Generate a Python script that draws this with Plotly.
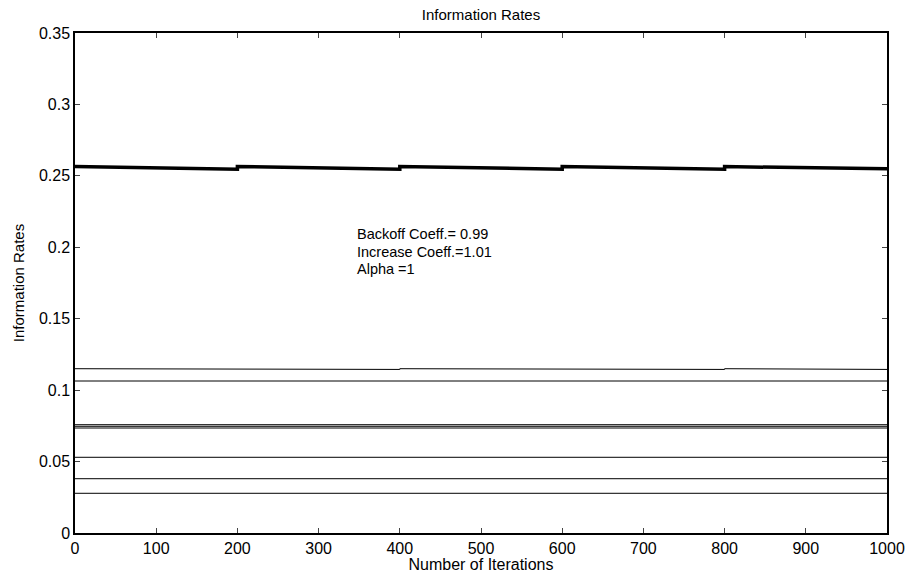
import plotly.graph_objects as go

# Breakpoints (iterations) for the sawtooth-shaped thick rate line
bp_x = [0, 200, 200, 400, 400, 600, 600, 800, 800, 1000]
thick_y = [0.2565, 0.2547, 0.2565, 0.2547, 0.2565, 0.2547, 0.2565, 0.2547, 0.2565, 0.2549]
upper_thin_y = [0.1150, 0.1145, 0.1150, 0.1145, 0.1150, 0.1145, 0.1150, 0.1145, 0.1150, 0.1145]

# Flat thin rate lines
flat_x = [0, 1000]
flat_levels = [0.1064, 0.0758, 0.0747, 0.0735, 0.0530, 0.0380, 0.0278]

x_ticks = [0, 100, 200, 300, 400, 500, 600, 700, 800, 900, 1000]
y_ticks = [0, 0.05, 0.1, 0.15, 0.2, 0.25, 0.3, 0.35]
y_tick_text = ["0", "0.05", "0.1", "0.15", "0.2", "0.25", "0.3", "0.35"]

annotation_lines = ["Backoff Coeff.= 0.99", "Increase Coeff.=1.01", "Alpha =1"]
annotation_y = [0.2090, 0.1968, 0.1846]

FONT = "Liberation Sans, Arial, Helvetica, sans-serif"

fig = go.Figure()
fig.add_trace(go.Scatter(x=bp_x, y=thick_y, mode="lines",
                         line=dict(color="black", width=3.5), showlegend=False))
fig.add_trace(go.Scatter(x=bp_x, y=upper_thin_y, mode="lines",
                         line=dict(color="black", width=1), showlegend=False))
for lv in flat_levels:
    fig.add_trace(go.Scatter(x=flat_x, y=[lv, lv], mode="lines",
                             line=dict(color="black", width=1), showlegend=False))

for txt, yy in zip(annotation_lines, annotation_y):
    fig.add_annotation(x=346, y=yy, xref="x", yref="y", xanchor="left", yanchor="middle",
                       text=txt, showarrow=False, align="left", borderpad=0,
                       font=dict(family=FONT, size=14.5, color="black"))

fig.update_layout(
    width=912, height=573,
    margin=dict(l=75, r=25, t=33, b=40),
    paper_bgcolor="white", plot_bgcolor="white",
    font=dict(family=FONT, size=16, color="black"),
    title=dict(text="Information Rates", x=0.5, xref="paper", y=0.975, yanchor="middle",
               font=dict(family=FONT, size=15, color="black")),
    xaxis=dict(range=[0, 1000], tickvals=x_ticks, ticks="inside", ticklen=5,
               showline=True, linecolor="black", linewidth=1.5, mirror="ticks",
               showgrid=False, zeroline=False, automargin=False,
               title=dict(text="Number of Iterations", standoff=0, font=dict(size=16)),
               tickfont=dict(size=16)),
    yaxis=dict(range=[0, 0.35], tickvals=y_ticks, ticktext=y_tick_text, ticks="inside", ticklen=5,
               showline=True, linecolor="black", linewidth=1.5, mirror="ticks",
               showgrid=False, zeroline=False, automargin=False,
               title=dict(text="Information Rates", standoff=11, font=dict(size=15)),
               tickfont=dict(size=16)),
)

fig.write_html("out.html")
